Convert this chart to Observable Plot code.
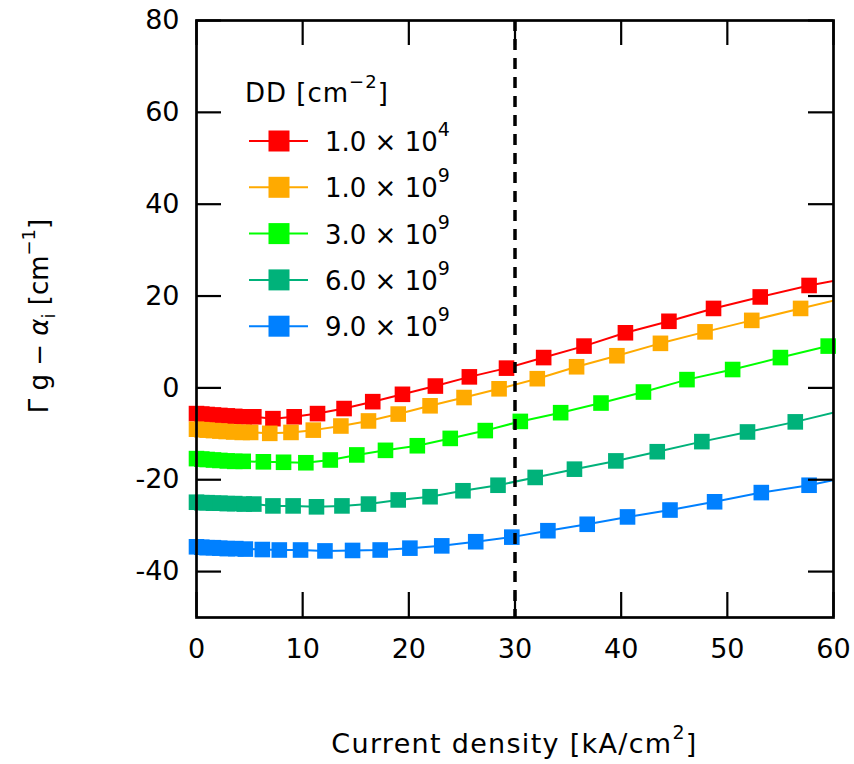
<!DOCTYPE html>
<html>
<head>
<meta charset="utf-8">
<script src="https://cdn.jsdelivr.net/npm/d3@7"></script>
<script src="https://cdn.jsdelivr.net/npm/@observablehq/plot@0.6"></script>
<style>
  html, body { margin: 0; padding: 0; background: #fff; }
  #chart { width: 854px; height: 764px; }
</style>
</head>
<body>
<div id="chart"></div>
<script>
// ---- Data ----
const seriesNames = ["1.0×10^4", "1.0×10^9", "3.0×10^9", "6.0×10^9", "9.0×10^9"];
const legendMantissa = ["1.0", "1.0", "3.0", "6.0", "9.0"];
const legendExponent = ["4", "9", "9", "9", "9"];
const seriesColors = ["#ff0000", "#ffaa00", "#00ff00", "#00b27a", "#0080ff"];

const redX = [0, 0.5, 1.0, 1.6, 2.2, 2.9, 3.6, 4.5, 5.4, 7.2, 9.2, 11.4, 13.9, 16.6, 19.4, 22.5, 25.7, 29.2, 32.7, 36.5, 40.4, 44.5, 48.7, 53.1, 57.7];
const redY = [-5.6, -5.7, -5.8, -5.9, -6.0, -6.1, -6.2, -6.3, -6.3, -6.7, -6.3, -5.6, -4.5, -3.0, -1.4, 0.4, 2.4, 4.3, 6.6, 9.1, 12.0, 14.5, 17.3, 19.8, 22.3];

const orangeX = [0, 0.5, 1.0, 1.6, 2.2, 2.8, 3.5, 4.3, 5.1, 6.9, 8.9, 11.0, 13.6, 16.2, 19.0, 22.0, 25.2, 28.5, 32.1, 35.8, 39.6, 43.7, 47.9, 52.3, 56.9];
const orangeY = [-9.0, -9.1, -9.2, -9.3, -9.4, -9.5, -9.6, -9.7, -9.7, -9.9, -9.7, -9.2, -8.3, -7.2, -5.7, -3.9, -2.1, -0.2, 2.0, 4.6, 7.0, 9.7, 12.2, 14.7, 17.3];

const greenX = [0, 0.5, 1.0, 1.6, 2.2, 2.9, 3.6, 4.4, 6.3, 8.2, 10.3, 12.6, 15.1, 17.8, 20.8, 23.9, 27.2, 30.5, 34.3, 38.1, 42.1, 46.2, 50.5, 55.0, 59.5];
const greenY = [-15.4, -15.5, -15.6, -15.7, -15.8, -15.9, -16.0, -16.0, -16.1, -16.2, -16.3, -15.7, -14.6, -13.6, -12.6, -11.0, -9.3, -7.3, -5.4, -3.3, -0.9, 1.8, 4.0, 6.6, 9.1];

const tealX = [0, 0.5, 1.0, 1.6, 2.2, 2.9, 3.6, 4.5, 5.4, 7.2, 9.1, 11.3, 13.7, 16.2, 19.0, 22.0, 25.1, 28.4, 31.9, 35.6, 39.5, 43.4, 47.6, 51.9, 56.4];
const tealY = [-24.9, -25.0, -25.0, -25.1, -25.1, -25.2, -25.2, -25.3, -25.3, -25.7, -25.7, -25.9, -25.7, -25.3, -24.4, -23.7, -22.4, -21.2, -19.5, -17.7, -15.9, -13.9, -11.7, -9.6, -7.4];

const blueX = [0, 0.5, 1.0, 1.6, 2.2, 2.9, 3.7, 4.6, 6.2, 7.8, 9.8, 12.1, 14.7, 17.3, 20.1, 23.1, 26.3, 29.7, 33.1, 36.8, 40.6, 44.6, 48.8, 53.2, 57.7];
const blueY = [-34.6, -34.7, -34.8, -34.8, -34.9, -35.0, -35.0, -35.1, -35.2, -35.3, -35.3, -35.5, -35.4, -35.3, -34.9, -34.4, -33.5, -32.5, -31.1, -29.7, -28.1, -26.6, -24.8, -22.8, -21.2];

// curve values at the right edge of the frame (x = 60)
const edgeX = 60;
const edgeY = [23.3, 19.0, 9.4, -5.4, -20.1];

const markerX = 30; // dashed reference line
const xTicks = [0, 10, 20, 30, 40, 50, 60];
const yTicks = [-40, -20, 0, 20, 40, 60, 80];

// ---- Build tables ----
const allX = [redX, orangeX, greenX, tealX, blueX];
const allY = [redY, orangeY, greenY, tealY, blueY];
const points = [];
const linePts = [];
allX.forEach((xs, s) => {
  xs.forEach((x, i) => {
    points.push({series: seriesNames[s], x, y: allY[s][i]});
    linePts.push({series: seriesNames[s], x, y: allY[s][i]});
  });
  linePts.push({series: seriesNames[s], x: edgeX, y: edgeY[s]});
});

// ---- Layout ----
const W = 854, H = 764;
const mL = 196, mR = 21, mT = 20, mB = 147;
const plotW = W - mL - mR, plotH = H - mT - mB;
const tickLen = 25;
const FONT = "'DejaVu Sans', sans-serif";

const chart = Plot.plot({
  width: W, height: H,
  marginLeft: mL, marginRight: mR, marginTop: mT, marginBottom: mB,
  style: {fontFamily: FONT, color: "#000", background: "#fff"},
  x: {domain: [0, 60]},
  y: {domain: [-50, 80]},
  color: {domain: seriesNames, range: seriesColors},
  marks: [
    Plot.line(linePts, {x: "x", y: "y", z: "series", stroke: "series", strokeWidth: 2, clip: true}),
    Plot.dot(points, {x: "x", y: "y", fill: "series", symbol: "square", r: 8.8}),
    Plot.ruleX([markerX], {strokeDasharray: "11,8", strokeWidth: 3.5, stroke: "#000"}),
    // inward ticks on all four sides
    Plot.tickY(yTicks, {y: d => d, insetRight: plotW - tickLen, strokeWidth: 2.2}),
    Plot.tickY(yTicks, {y: d => d, insetLeft: plotW - tickLen, strokeWidth: 2.2}),
    Plot.tickX(xTicks, {x: d => d, insetBottom: plotH - tickLen, strokeWidth: 2.2}),
    Plot.tickX(xTicks, {x: d => d, insetTop: plotH - tickLen, strokeWidth: 2.2}),
    Plot.frame({strokeWidth: 2.7, stroke: "#000"}),
    Plot.axisY(yTicks, {tickSize: 0, tickPadding: 17, fontSize: 27, label: null, tickFormat: d => d < 0 ? "-" + Math.abs(d) : String(d)}),
    Plot.axisX(xTicks, {tickSize: 0, tickPadding: 21, fontSize: 27, label: null})
  ]
});

document.getElementById("chart").appendChild(chart);

// ---- Titles & legend (text annotations) ----
const svg = d3.select(chart);
const ann = svg.append("g").attr("font-family", FONT).attr("fill", "#000").attr("text-anchor", "start");

// x-axis title
const xt = ann.append("text")
  .attr("x", mL + plotW / 2).attr("y", 753)
  .attr("text-anchor", "middle").attr("font-size", 27).attr("letter-spacing", 1.3);
xt.append("tspan").text("Current density [kA/cm");
xt.append("tspan").attr("dy", -14).attr("font-size", 19).text("2");
xt.append("tspan").attr("dy", 14).text("]");

// y-axis title
const yt = ann.append("text")
  .attr("transform", "translate(48,316) rotate(-90)")
  .attr("text-anchor", "middle").attr("font-size", 26);
yt.append("tspan").text("Γ g − ");
yt.append("tspan").attr("font-style", "italic").text("α");
yt.append("tspan").attr("dy", 7).attr("font-size", 18).text("i");
yt.append("tspan").attr("dy", -7).text(" [cm");
yt.append("tspan").attr("dy", -13).attr("font-size", 18).text("−1");
yt.append("tspan").attr("dy", 13).text("]");

// legend
const lg = ann.append("g");
const lt = lg.append("text").attr("x", 245).attr("y", 102).attr("font-size", 26).attr("letter-spacing", 1);
lt.append("tspan").text("DD [cm");
lt.append("tspan").attr("dy", -14).attr("font-size", 18).text("−2");
lt.append("tspan").attr("dy", 14).text("]");

seriesNames.forEach((name, i) => {
  const cy = 141 + i * 46.3;
  const c = seriesColors[i];
  lg.append("line").attr("x1", 249).attr("x2", 308).attr("y1", cy).attr("y2", cy)
    .attr("stroke", c).attr("stroke-width", 2);
  lg.append("rect").attr("x", 279 - 10.5).attr("y", cy - 10.5).attr("width", 21).attr("height", 21)
    .attr("fill", c);
  const t = lg.append("text").attr("x", 325).attr("y", cy + 10).attr("font-size", 26);
  t.append("tspan").text(legendMantissa[i] + " × 10");
  t.append("tspan").attr("dy", -15).attr("font-size", 19).text(legendExponent[i]);
});
</script>
</body>
</html>
